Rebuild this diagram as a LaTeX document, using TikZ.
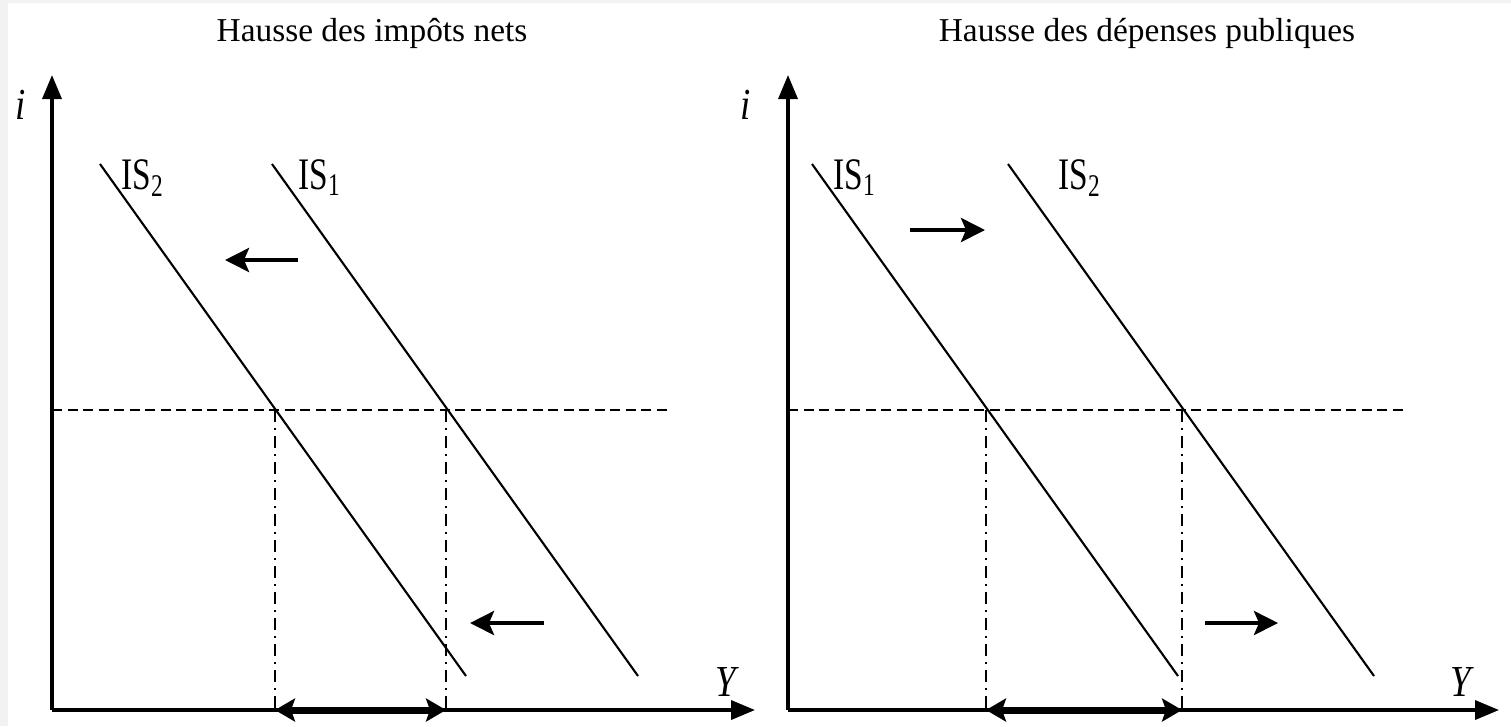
\documentclass[tikz,border=0pt]{standalone}
\usepackage{fontspec}
\setmainfont{Liberation Serif}
\usepackage{tikz}
\usetikzlibrary{arrows.meta,calc,positioning}

\begin{document}
\begin{tikzpicture}[>=Stealth, font=\fontsize{9.5}{11}\selectfont,
  axis/.style={line width=1pt, -{Triangle[length=2.4mm, width=1.9mm]}},
  iscurve/.style={line width=0.6pt},
  level/.style={line width=0.6pt, dash pattern=on 1mm off 0.55mm},
  drop/.style={line width=0.6pt, dash pattern=on 1.2mm off 0.6mm on 0.2mm off 0.6mm},
  shiftarrow/.style={line width=1.2pt, -{Stealth[length=2.4mm, width=2.4mm, inset=0.5mm]}},
  gap/.style={line width=2pt, {Stealth[length=2mm, width=2.3mm, inset=0.4mm]}-{Stealth[length=2mm, width=2.3mm, inset=0.4mm]}},
  islabel/.style={inner sep=0pt}]

% background with light border
\fill[gray!10] (0,0) rectangle (15.11,7.26);
\fill[white] (0.08,0) rectangle (15.11,7.23);
\useasboundingbox (0,0) rectangle (15.11,7.26);

% =========================================================
% LEFT: rise in net taxes -- IS shifts to the left
% =========================================================
\node (titleL) at (3.72,6.93) {Hausse des impôts nets};

\coordinate (OL) at (0.52,0.16);
\draw[axis] (OL) -- (0.52,6.51) coordinate (iL);
\draw[axis] (OL) -- (7.55,0.16) coordinate (YL);
\node[islabel] (iLbl) at (0.21,6.21) {\fontsize{10.5}{12}\selectfont\scalebox{1}[1.2]{\textit{i}}};
\node[islabel] (YLbl) at (7.27,0.44) {\fontsize{10.5}{12}\selectfont\scalebox{1}[1.2]{\textit{Y}}};

% IS curves
\draw[iscurve] (1.00,5.62) -- (4.66,0.50);
\draw[iscurve] (2.72,5.62) -- (6.38,0.50);
\node[islabel] (IS2L) at (1.43,5.48) {\scalebox{1}[1.35]{IS\textsubscript{2}}};
\node[islabel] (IS1L) at (3.20,5.48) {\scalebox{1}[1.35]{IS\textsubscript{1}}};

% equilibrium level and income drops
\coordinate (EL2) at (2.75,3.16);
\coordinate (EL1) at (4.46,3.16);
\draw[level] (0.52,3.16) -- (6.67,3.16);
\draw[drop] (EL2) -- (EL2 |- OL) coordinate (FL2);
\draw[drop] (EL1) -- (EL1 |- OL) coordinate (FL1);
\draw[gap] (FL2) -- (FL1);

% shift arrows
\coordinate (aL1) at (2.98,4.66);
\coordinate (bL1) at (2.25,4.66);
\coordinate (aL2) at (5.44,1.03);
\coordinate (bL2) at (4.70,1.03);
\draw[shiftarrow] (aL1) -- (bL1);
\draw[shiftarrow] (aL2) -- (bL2);

% =========================================================
% RIGHT: rise in public spending -- IS shifts to the right
% =========================================================
\node (titleR) at (11.47,6.93) {Hausse des dépenses publiques};

\coordinate (OR) at (7.88,0.16);
\draw[axis] (OR) -- (7.88,6.51) coordinate (iR);
\draw[axis] (OR) -- (14.99,0.16) coordinate (YR);
\node[islabel] (iRLbl) at (7.46,6.21) {\fontsize{10.5}{12}\selectfont\scalebox{1}[1.2]{\textit{i}}};
\node[islabel] (YRLbl) at (14.62,0.44) {\fontsize{10.5}{12}\selectfont\scalebox{1}[1.2]{\textit{Y}}};

% IS curves
\draw[iscurve] (8.12,5.62) -- (11.78,0.50);
\draw[iscurve] (10.08,5.62) -- (13.74,0.50);
\node[islabel] (IS1R) at (8.55,5.48) {\scalebox{1}[1.35]{IS\textsubscript{1}}};
\node[islabel] (IS2R) at (10.80,5.48) {\scalebox{1}[1.35]{IS\textsubscript{2}}};

% equilibrium level and income gains
\coordinate (ER1) at (9.86,3.16);
\coordinate (ER2) at (11.82,3.16);
\draw[level] (7.88,3.16) -- (14.05,3.16);
\draw[drop] (ER1) -- (ER1 |- OR) coordinate (FR1);
\draw[drop] (ER2) -- (ER2 |- OR) coordinate (FR2);
\draw[gap] (FR1) -- (FR2);

% shift arrows
\coordinate (aR1) at (9.10,4.96);
\coordinate (bR1) at (9.85,4.96);
\coordinate (aR2) at (12.05,1.03);
\coordinate (bR2) at (12.78,1.03);
\draw[shiftarrow] (aR1) -- (bR1);
\draw[shiftarrow] (aR2) -- (bR2);

\end{tikzpicture}
\end{document}
